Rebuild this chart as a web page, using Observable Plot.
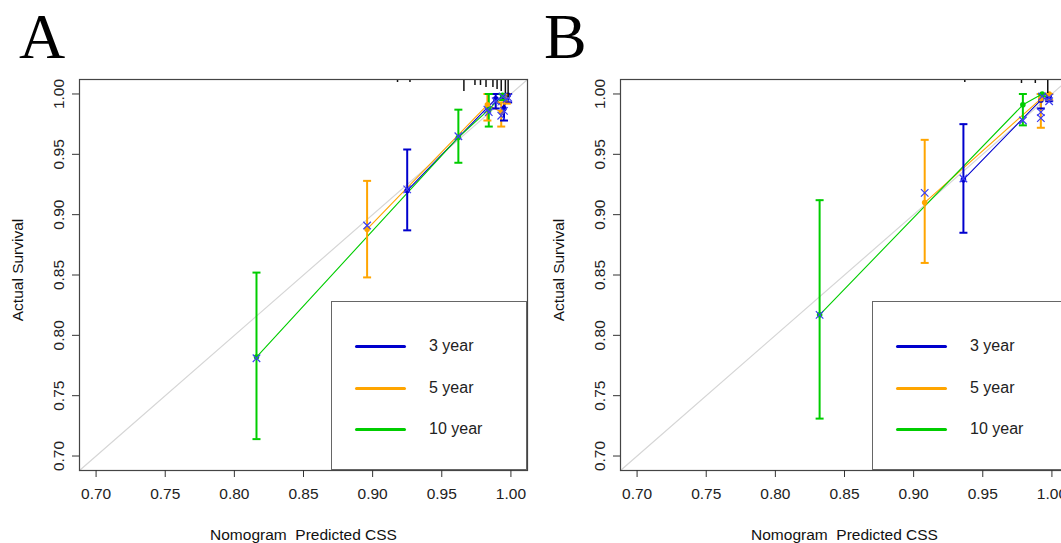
<!DOCTYPE html>
<html>
<head>
<meta charset="utf-8">
<script src="https://cdn.jsdelivr.net/npm/d3@7"></script>
<script src="https://cdn.jsdelivr.net/npm/@observablehq/plot@0.6"></script>
<style>
  body { margin: 0; background: #fff; }
  #wrap { position: relative; width: 1061px; height: 543px; overflow: hidden; font-family: "Liberation Sans", Arial, sans-serif; }
  .panel { position: absolute; top: 0; width: 541px; height: 543px; }
  .panel svg { position: absolute; left: 0; top: 0; }
  .letter { position: absolute; top: 5px; font-family: "Liberation Serif", "Times New Roman", serif; font-size: 64px; line-height: 1; color: #000; }
  .legend { position: absolute; left: 331px; top: 301px; width: 196px; height: 169px; border: 1.5px solid #666; background: #fff; box-sizing: border-box; }
  .legend .ln { position: absolute; left: 23px; width: 51px; height: 3px; border-radius: 2px; }
  .legend .tx { position: absolute; left: 97px; font-size: 16px; color: #222; line-height: 1; }
</style>
</head>
<body>
<div id="wrap"></div>
<script>
// ---------- data ----------
const yearLabels = ["3 year", "5 year", "10 year"];
const tickValues = [0.70, 0.75, 0.80, 0.85, 0.90, 0.95, 1.00];
const axisRange = [0.70, 1.00];
const xLabel = "Nomogram\u00a0 Predicted CSS";
const yLabel = "Actual Survival";

// Panel A : predicted, observed, CI low, CI high, bias-corrected
const predA3 = [0.925, 0.989, 0.995, 0.998];
const obsA3  = [0.920, 0.996, 0.988, 0.999];
const loA3   = [0.887, 0.988, 0.978, 0.993];
const hiA3   = [0.954, 1.000, 0.997, 1.000];
const corrA3 = [0.921, 0.994, 0.986, 0.997];

const predA5 = [0.896, 0.983, 0.993, 0.997];
const obsA5  = [0.888, 0.991, 0.985, 0.998];
const loA5   = [0.848, 0.978, 0.973, 0.992];
const hiA5   = [0.928, 1.000, 0.993, 1.000];
const corrA5 = [0.891, 0.987, 0.982, 0.996];

const predA10 = [0.816, 0.962, 0.984, 0.994];
const obsA10  = [0.782, 0.964, 0.987, 0.999];
const loA10   = [0.714, 0.943, 0.973, 0.995];
const hiA10   = [0.852, 0.987, 1.000, 1.000];
const corrA10 = [0.781, 0.965, 0.985, 0.998];

const rugAx = [0.770, 0.833, 0.878, 0.918, 0.927, 0.966, 0.974, 0.978, 0.982, 0.987, 0.990, 0.993, 0.996, 0.998];
const rugAn = [1, 1, 1, 3, 3, 12, 6, 6, 8, 8, 10, 12, 14, 18];

// Panel B
const predB3 = [0.936, 0.992, 0.998];
const obsB3  = [0.929, 0.995, 0.998];
const loB3   = [0.885, 0.988, 0.994];
const hiB3   = [0.975, 1.000, 1.000];
const corrB3 = [0.930, 0.985, 0.994];

const predB5 = [0.908, 0.992, 0.998];
const obsB5  = [0.910, 0.996, 1.000];
const loB5   = [0.860, 0.972, 0.995];
const hiB5   = [0.962, 1.000, 1.000];
const corrB5 = [0.918, 0.980, 0.997];

const predB10 = [0.832, 0.979, 0.993];
const obsB10  = [0.817, 0.991, 1.000];
const loB10   = [0.731, 0.974, 0.998];
const hiB10   = [0.912, 1.000, 1.000];
const corrB10 = [0.817, 0.978, 0.998];

const rugBx = [0.858, 0.900, 0.937, 0.958, 0.968, 0.978, 0.988, 0.997];
const rugBn = [1, 1, 3, 1, 1, 4, 4, 14];

// ---------- styles ----------
const seriesColors = ["#0000CD", "#FFA500", "#00CD00"];
const corrColor = "#3d3df2";

const panels = [
  { letter: "A", left: 0, letterLeft: 19,
    series: [
      {pred: predA3, obs: obsA3, lo: loA3, hi: hiA3, corr: corrA3},
      {pred: predA5, obs: obsA5, lo: loA5, hi: hiA5, corr: corrA5},
      {pred: predA10, obs: obsA10, lo: loA10, hi: hiA10, corr: corrA10}
    ], rugX: rugAx, rugN: rugAn },
  { letter: "B", left: 541, letterLeft: 544,
    series: [
      {pred: predB3, obs: obsB3, lo: loB3, hi: hiB3, corr: corrB3},
      {pred: predB5, obs: obsB5, lo: loB5, hi: hiB5, corr: corrB5},
      {pred: predB10, obs: obsB10, lo: loB10, hi: hiB10, corr: corrB10}
    ], rugX: rugBx, rugN: rugBn }
];

const capSymbol = { draw(ctx, size) { const w = Math.sqrt(size / Math.PI); ctx.moveTo(-w, 0); ctx.lineTo(w, 0); } };
const fmt = d3.format(".2f");

const W = 541, H = 543, mL = 79, mR = 14, mT = 79, mB = 73;

function makePlot(p) {
  const rows = [];
  p.series.forEach((s, i) => s.pred.forEach((v, j) => rows.push({
    series: yearLabels[i], pred: v, obs: s.obs[j], lo: s.lo[j], hi: s.hi[j], corr: s.corr[j]
  })));
  const pad = 0.04 * (axisRange[1] - axisRange[0]);
  const dom = [axisRange[0] - pad, axisRange[1] + pad];
  const perPx = (dom[1] - dom[0]) / (H - mT - mB);
  const rug = p.rugX.map((x, i) => ({x, n: p.rugN[i]}));
  return Plot.plot({
    width: W, height: H, marginLeft: mL, marginRight: mR, marginTop: mT, marginBottom: mB,
    style: {fontFamily: '"Liberation Sans", Arial, sans-serif', fontSize: "15.5px", color: "#333", background: "transparent", overflow: "visible"},
    x: {domain: dom},
    y: {domain: dom},
    color: {domain: yearLabels, range: seriesColors},
    marks: [
      Plot.line(dom, {x: d => d, y: d => d, stroke: "#d6d6d6", strokeWidth: 1.2}),
      Plot.line(rows, {x: "pred", y: "obs", z: "series", stroke: "series", strokeWidth: 1.1}),
      Plot.ruleX(rows, {x: "pred", y1: "lo", y2: "hi", stroke: "series", strokeWidth: 2}),
      Plot.dot(rows, {x: "pred", y: "lo", symbol: capSymbol, r: 4, stroke: "series", strokeWidth: 2}),
      Plot.dot(rows, {x: "pred", y: "hi", symbol: capSymbol, r: 4, stroke: "series", strokeWidth: 2}),
      Plot.dot(rows, {x: "pred", y: "obs", fill: "series", r: 2.8}),
      Plot.dot(rows, {x: "pred", y: "corr", symbol: "times", stroke: corrColor, r: 3.5, strokeWidth: 1.2}),
      Plot.ruleX(rug, {x: "x", y1: () => dom[1], y2: d => dom[1] - d.n * perPx, stroke: "#111", strokeWidth: 1.5}),
      Plot.frame({stroke: "#444", strokeWidth: 1.2}),
      Plot.axisX({ticks: tickValues, tickFormat: fmt, tickSize: 7, tickPadding: 10, label: null, stroke: "#333", fill: "#222"}),
      Plot.axisY({ticks: tickValues, tickFormat: fmt, tickSize: 7, tickPadding: 9, tickRotate: -90, label: null, stroke: "#333", fill: "#222"}),
      Plot.text([xLabel], {text: d => d, frameAnchor: "bottom", textAnchor: "middle", dy: 69, fill: "#111"}),
      Plot.text([yLabel], {text: d => d, frameAnchor: "left", textAnchor: "middle", rotate: -90, dx: -61, dy: -5, fill: "#111"})
    ]
  });
}

const wrap = document.getElementById("wrap");
panels.forEach(p => {
  const div = document.createElement("div");
  div.className = "panel";
  div.style.left = p.left + "px";
  div.appendChild(makePlot(p));
  const lg = document.createElement("div");
  lg.className = "legend";
  yearLabels.forEach((lab, i) => {
    const ln = document.createElement("div");
    ln.className = "ln";
    ln.style.top = (43 + i * 41.5) + "px";
    ln.style.background = seriesColors[i];
    const tx = document.createElement("div");
    tx.className = "tx";
    tx.style.top = (36 + i * 41.5) + "px";
    tx.textContent = lab;
    lg.appendChild(ln);
    lg.appendChild(tx);
  });
  div.appendChild(lg);
  wrap.appendChild(div);
  const L = document.createElement("div");
  L.className = "letter";
  L.style.left = p.letterLeft + "px";
  L.textContent = p.letter;
  wrap.appendChild(L);
});
</script>
</body>
</html>
